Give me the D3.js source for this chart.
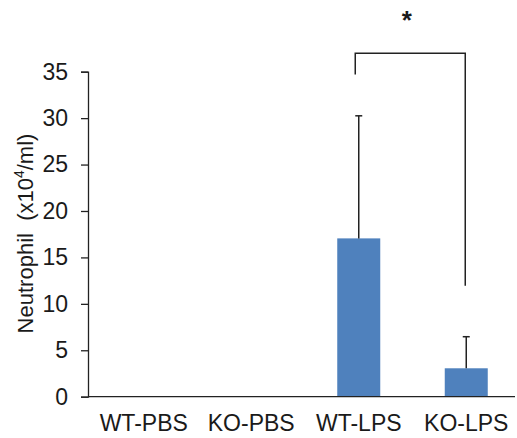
<!DOCTYPE html>
<html lang="en">
<head>
<meta charset="UTF-8">
<title>Neutrophil</title>
<script src="https://d3js.org/d3.v7.min.js"></script>
<style>
    body { margin: 0; background: #fff; }
    text { font-family: "Liberation Sans", Arial, sans-serif; fill: #1a1a1a; }
</style>
</head>
<body>
<svg id="svg" width="517" height="438"></svg>
<script>
    // data
    const groups = ["WT-PBS", "KO-PBS", "WT-LPS", "KO-LPS"];
    const means = [0, 0, 17.05, 3.06];
    const errors = [0, 0, 13.2, 3.4];
    const yTicks = [0, 5, 10, 15, 20, 25, 30, 35];
    // significance bracket between two groups: top, left end, right end
    const bracketGroups = ["WT-LPS", "KO-LPS"];
    const bracketLevels = [37.0, 34.7, 11.95];

    const svg = d3.select("#svg");
    const x0 = 88, y0 = 396.7, yTop = 71.7;

    const x = d3.scaleBand().domain(groups).range([90, 520]).paddingInner(0.6).paddingOuter(0.3);
    const y = d3.scaleLinear().domain([0, 35]).range([y0, yTop]);

    // y axis
    const yAxis = svg.append("g").attr("transform", `translate(${x0},0)`)
        .call(d3.axisLeft(y).tickValues(yTicks).tickSize(7).tickPadding(13));
    yAxis.select(".domain").attr("stroke", "#222").attr("stroke-width", 1.3);
    yAxis.selectAll(".tick line").attr("stroke", "#222").attr("stroke-width", 1.3);
    yAxis.selectAll(".tick text").attr("font-size", 23).attr("fill", "#1a1a1a")
        .attr("font-family", "Liberation Sans, Arial, sans-serif");

    const rows = groups.map((g, i) => ({ g, v: means[i], e: errors[i] }));

    // bars
    svg.selectAll("rect.bar").data(rows.filter(d => d.v > 0))
        .join("rect")
        .attr("class", "bar")
        .attr("x", d => x(d.g))
        .attr("y", d => y(d.v))
        .attr("width", x.bandwidth())
        .attr("height", d => y(0) - y(d.v))
        .attr("fill", "#4f81bd");

    // error bars (upper only)
    const eb = svg.selectAll("g.err").data(rows.filter(d => d.e > 0))
        .join("g").attr("class", "err");
    eb.append("line")
        .attr("x1", d => x(d.g) + x.bandwidth() / 2)
        .attr("x2", d => x(d.g) + x.bandwidth() / 2)
        .attr("y1", d => y(d.v))
        .attr("y2", d => y(d.v + d.e))
        .attr("stroke", "#222").attr("stroke-width", 1.5);
    eb.append("line")
        .attr("x1", d => x(d.g) + x.bandwidth() / 2 - 3.5)
        .attr("x2", d => x(d.g) + x.bandwidth() / 2 + 3.5)
        .attr("y1", d => y(d.v + d.e))
        .attr("y2", d => y(d.v + d.e))
        .attr("stroke", "#222").attr("stroke-width", 1.5);

    // x axis line
    svg.append("line")
        .attr("x1", x0).attr("x2", 515)
        .attr("y1", y0).attr("y2", y0)
        .attr("stroke", "#222").attr("stroke-width", 1.3);

    // category labels
    svg.selectAll("text.cat").data(groups).join("text")
        .attr("class", "cat")
        .attr("x", d => x(d) + x.bandwidth() / 2)
        .attr("y", 431)
        .attr("text-anchor", "middle")
        .attr("font-size", 23)
        .text(d => d);

    // significance bracket
    const bx1 = x(bracketGroups[0]) + x.bandwidth() / 2 - 3.5;
    const bx2 = x(bracketGroups[1]) + x.bandwidth() / 2 - 1;
    svg.append("path")
        .attr("d", `M${bx1},${y(bracketLevels[1])}V${y(bracketLevels[0])}H${bx2}V${y(bracketLevels[2])}`)
        .attr("fill", "none").attr("stroke", "#222").attr("stroke-width", 1.5);
    svg.append("text")
        .attr("x", (bx1 + bx2) / 2 - 3.5)
        .attr("y", 29)
        .attr("text-anchor", "middle")
        .attr("font-size", 26)
        .attr("font-weight", "bold")
        .text("*");

    // y axis title
    const title = svg.append("text")
        .attr("transform", "translate(32.5,233.5) rotate(-90)")
        .attr("text-anchor", "middle")
        .attr("font-size", 22)
        .attr("xml:space", "preserve");
    title.append("tspan").text("Neutrophil  (x10");
    title.append("tspan").attr("font-size", 14).attr("dy", -9).text("4");
    title.append("tspan").attr("dy", 9).text("/ml)");
</script>
</body>
</html>
